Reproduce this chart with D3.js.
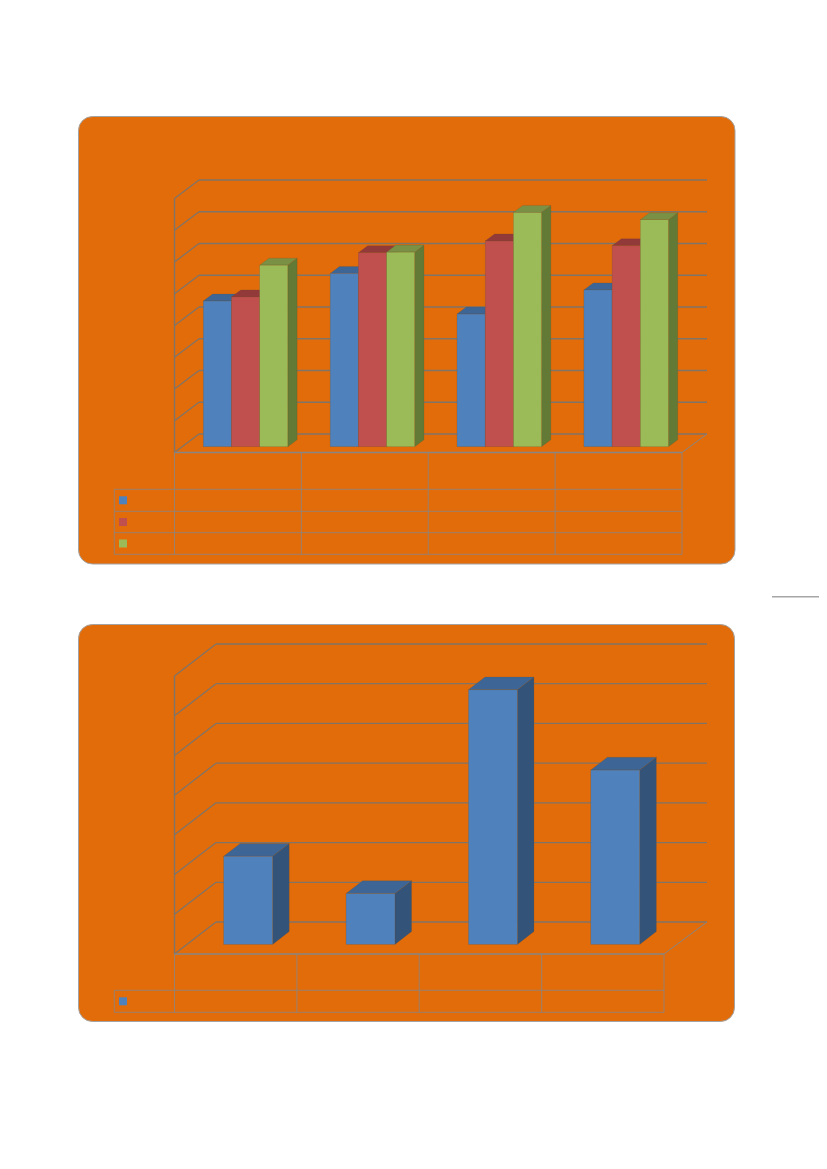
<!DOCTYPE html>
<html><head><meta charset="utf-8">
<script src="https://cdn.jsdelivr.net/npm/d3@7/dist/d3.min.js"></script>
<style>html,body{margin:0;padding:0;background:#fff}svg{display:block}</style>
</head><body><svg id="c" width="827" height="1169"></svg>
<script>
const groupsTop = ["1", "2", "3", "4"];
const seriesTop = ["A", "B", "C"];
const seriesTopA = [4.59, 5.46, 4.18, 4.94];
const seriesTopB = [4.72, 6.11, 6.48, 6.33];
const seriesTopC = [5.72, 6.13, 7.38, 7.15];
const ticksTop = [0, 1, 2, 3, 4, 5, 6, 7, 8];

const groupsBottom = ["1", "2", "3", "4"];
const seriesBottom = ["A"];
const seriesBottomA = [2.22, 1.28, 6.41, 4.39];
const ticksBottom = [0, 1, 2, 3, 4, 5, 6, 7];

const palette = [
  {front:"#4f81bd", side:"#345379", top:"#3d6595"},
  {front:"#c0504d", side:"#7c3331", top:"#92393a"},
  {front:"#9bbb59", side:"#627a35", top:"#7a9044"}
];
const GRID = "#7f7468";
const TABLE = "#868686";
const svg = d3.select("#c");

function panel(o){
  const g = svg.append("g");
  g.append("rect").attr("x",o.card[0]).attr("y",o.card[1])
    .attr("width",o.card[2]-o.card[0]).attr("height",o.card[3]-o.card[1])
    .attr("rx",14).attr("ry",14).attr("fill","#e36c0a").attr("stroke","#a3a3a3").attr("stroke-width",1);

  const y = d3.scaleLinear().domain(d3.extent(o.ticks)).range([o.y0, o.y1]);
  const x = d3.scaleBand().domain(o.groups).range([o.x0, o.x1]);
  const inner = d3.scaleBand().domain(o.series.map((_,i)=>i))
    .range([x.bandwidth()*o.inset, x.bandwidth()*(1-o.inset)]);

  // back wall gridlines and side wall diagonals
  g.append("g").selectAll("line.grid").data(o.ticks).join("line").attr("class","grid")
    .attr("x1",o.x0+o.dx).attr("x2",o.backEnd)
    .attr("y1",d=>y(d)-o.dy).attr("y2",d=>y(d)-o.dy)
    .attr("stroke",GRID).attr("stroke-width",1.3);
  g.append("g").selectAll("line.diag").data(o.ticks).join("line").attr("class","diag")
    .attr("x1",o.x0).attr("x2",o.x0+o.dx)
    .attr("y1",d=>y(d)).attr("y2",d=>y(d)-o.dy)
    .attr("stroke",GRID).attr("stroke-width",1.3);
  // floor right edge
  g.append("line").attr("x1",o.x1).attr("y1",o.y0).attr("x2",o.backEnd).attr("y2",o.y0-o.dy)
    .attr("stroke",TABLE).attr("stroke-width",1);
  // front vertical axis
  g.append("line").attr("x1",o.x0).attr("x2",o.x0).attr("y1",y.range()[1]).attr("y2",o.y0)
    .attr("stroke",GRID).attr("stroke-width",1.4);

  // data table
  const rows = g.append("g");
  const vx = o.groups.map(c=>x(c)).concat([o.x1]);
  rows.selectAll("line.v").data(vx).join("line").attr("class","v")
    .attr("x1",d=>d).attr("x2",d=>d).attr("y1",o.y0).attr("y2",o.rows[o.rows.length-1])
    .attr("stroke",TABLE).attr("stroke-width",.8);
  rows.append("line").attr("x1",o.x0).attr("x2",o.x1).attr("y1",o.y0).attr("y2",o.y0)
    .attr("stroke",TABLE).attr("stroke-width",1.3);
  rows.selectAll("line.h").data(o.rows).join("line").attr("class","h")
    .attr("x1",o.left).attr("x2",o.x1).attr("y1",d=>d).attr("y2",d=>d)
    .attr("stroke",TABLE).attr("stroke-width",.8);
  rows.append("line").attr("x1",o.left).attr("x2",o.left)
    .attr("y1",o.rows[0]).attr("y2",o.rows[o.rows.length-1]).attr("stroke",TABLE).attr("stroke-width",.8);
  g.append("g").selectAll("rect").data(o.series).join("rect")
    .attr("x",o.left+4.7).attr("width",8).attr("height",8)
    .attr("y",(_,i)=>(o.rows[i]+o.rows[i+1])/2-4)
    .attr("fill",(_,i)=>palette[i].front);

  // bars
  const gap = (1-o.barDepth)/2;
  const base = o.y0 - o.dy*gap, shiftX = o.dx*gap;
  const bdx = o.dx*o.barDepth, bdy = o.dy*o.barDepth;
  const yBar = v => y(v) - o.dy*gap;
  const bars = o.groups.flatMap((c,ci)=>o.series.map((s,si)=>({c,si,v:o.values[si][ci]})));
  const bg = g.append("g").selectAll("g").data(bars).join("g");
  const L = d=>x(d.c)+inner(d.si)+shiftX, W = inner.bandwidth();
  const edge = "rgba(110,80,40,.45)";
  bg.append("path").attr("fill",d=>palette[d.si].side).attr("stroke",edge).attr("stroke-width",.5)
    .attr("d",d=>{const p=d3.path(),l=L(d)+W,t=yBar(d.v);
      p.moveTo(l,base);p.lineTo(l+bdx,base-bdy);p.lineTo(l+bdx,t-bdy);p.lineTo(l,t);p.closePath();return p.toString();});
  bg.append("path").attr("fill",d=>palette[d.si].top).attr("stroke",edge).attr("stroke-width",.5)
    .attr("d",d=>{const p=d3.path(),l=L(d),t=yBar(d.v);
      p.moveTo(l,t);p.lineTo(l+W,t);p.lineTo(l+W+bdx,t-bdy);p.lineTo(l+bdx,t-bdy);p.closePath();return p.toString();});
  bg.append("rect").attr("x",L).attr("width",W).attr("y",d=>yBar(d.v))
    .attr("height",d=>base-yBar(d.v)).attr("fill",d=>palette[d.si].front).attr("stroke",edge).attr("stroke-width",.5);
}

panel({card:[78.5,116.5,735,564], groups:groupsTop, series:seriesTop,
  values:[seriesTopA,seriesTopB,seriesTopC], ticks:ticksTop,
  x0:174.5,x1:682,backEnd:707,y0:452.5,y1:198.5,dx:24.5,dy:18.5,barDepth:.38,inset:1/6,
  left:114.3,rows:[489.3,511.3,532.7,554.3]});
panel({card:[78.5,624.5,734.5,1021.5], groups:groupsBottom, series:seriesBottom,
  values:[seriesBottomA], ticks:ticksBottom,
  x0:174.5,x1:664,backEnd:707,y0:954,y1:676,dx:41.5,dy:32,barDepth:.4,inset:.3,
  left:114.3,rows:[990.3,1012.3]});

svg.append("line").attr("x1",772).attr("x2",819).attr("y1",596.7).attr("y2",596.7)
  .attr("stroke","#a6a6a6").attr("stroke-width",1.4);
</script></body></html>
